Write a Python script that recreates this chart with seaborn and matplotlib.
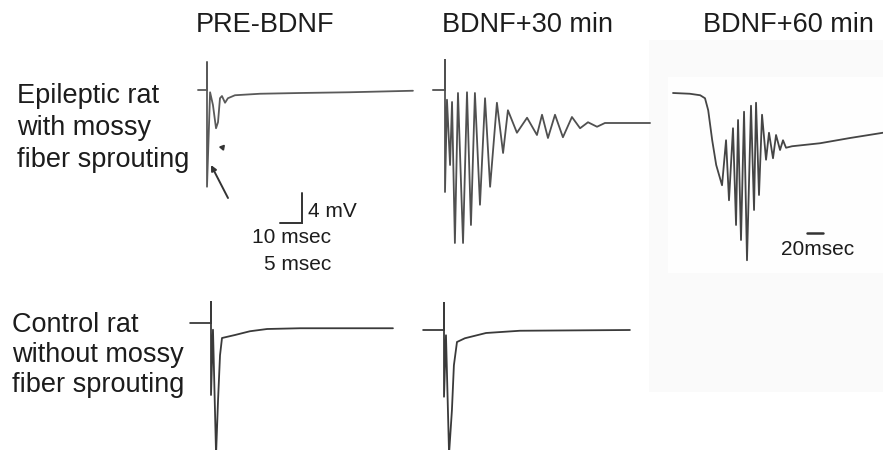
import numpy as np
import pandas as pd
import matplotlib
matplotlib.use("Agg")
import matplotlib.pyplot as plt
import seaborn as sns
from matplotlib.patches import Rectangle

sns.set_theme(style="white")
plt.rcParams['font.family'] = ['Liberation Sans', 'DejaVu Sans']

# ---------------- data (time in ms, voltage in mV) ----------------
col_titles = ["PRE-BDNF", "BDNF+30 min", "BDNF+60 min"]
row1_lines = ["Epileptic rat", "with mossy", "fiber sprouting"]
row2_lines = ["Control rat", "without mossy", "fiber sprouting"]

# Epileptic, PRE-BDNF
ep_pre_t = [-4.1, 0, 0, 0, 1.4, 2.7, 4.1, 5.0, 5.9, 6.8, 8.2, 9.5, 12.7, 24.1, 42.3, 65.0, 93.6]
ep_pre_v = [0.0, 0.0, 3.7, -12.9, -0.3, -2.0, -5.1, -4.3, -1.1, -0.8, -1.7, -1.1, -0.7, -0.5, -0.4, -0.3, -0.1]

# Epileptic, BDNF+30 min
ep_30_t = [-5.5, 0, 0, 0, 0.9, 2.3, 3.2, 4.5, 5.9, 8.2, 10.0, 11.8, 13.6, 15.9, 18.2, 20.5,
           23.6, 26.4, 28.6, 32.7, 37.3, 41.8, 44.1, 46.8, 50.0, 53.6, 57.7, 61.4, 65.0,
           69.1, 72.7, 93.2]
ep_30_v = [0.0, 0.0, 4.0, -13.6, -1.3, -10.0, -1.6, -20.4, -0.4, -20.4, -0.3, -18.0, -0.4,
           -15.3, -1.1, -12.9, -1.7, -8.4, -2.7, -5.7, -3.7, -6.0, -3.3, -6.4, -3.3, -6.3,
           -3.6, -5.1, -4.3, -4.9, -4.4, -4.4]

# Epileptic, BDNF+60 min
ep_60_t = [0, 21, 34, 40, 44, 49, 54, 57.5, 61.3, 66.3, 70.0, 75.0, 78.8, 81.3, 85.0, 88.8,
           92.5, 97.5, 101.3, 103.8, 107.5, 111.3, 116.3, 120.0, 125.0, 128.8, 133.8, 137.5,
           141.3, 148.8, 183.8, 221.3, 262.5]
ep_60_v = [0.0, -0.1, -0.3, -0.7, -2.3, -6.3, -9.6, -10.9, -12.3, -6.3, -14.3, -4.7, -17.6,
           -3.6, -19.6, -2.5, -22.3, -1.7, -15.6, -1.3, -13.6, -2.9, -8.9, -5.3, -8.7, -5.6,
           -7.6, -6.3, -7.3, -7.1, -6.7, -6.0, -5.3]

# Control, PRE-BDNF
ct_pre_t = [-9.5, 0, 0, 0, 0.9, 2.3, 3.2, 4.1, 5.0, 10.9, 17.7, 25.5, 40.5, 82.7]
ct_pre_v = [0.0, 0.0, 2.8, -9.6, -0.9, -17.5, -10.3, -4.3, -2.0, -1.6, -1.1, -0.8, -0.7, -0.7]

# Control, BDNF+30 min
ct_30_t = [-9.5, 0, 0, 0, 0.9, 2.3, 3.6, 4.5, 5.9, 9.5, 19.1, 34.5, 84.5]
ct_30_v = [0.0, 0.0, 3.6, -8.9, -0.7, -16.5, -10.7, -4.7, -1.6, -1.1, -0.4, -0.1, 0.0]

W, H = 883, 450
fig = plt.figure(figsize=(W / 100, H / 100), dpi=100)
fig.patch.set_facecolor("white")

# base axes in pixel units for texts / annotations
base = fig.add_axes([0, 0, 1, 1])
base.set_xlim(0, W)
base.set_ylim(H, 0)
base.axis("off")

# very faint scan background
base.add_patch(Rectangle((649, 40), W - 649, 352, facecolor="#fafafa", edgecolor="none", zorder=0))
base.add_patch(Rectangle((668, 77), W - 668, 196, facecolor="#fefefe", edgecolor="none", zorder=0))


def panel_axes(xs, yb, px_ms, px_mv):
    ax = fig.add_axes([0, 0, 1, 1])
    ax.set_xlim(-xs / px_ms, (W - xs) / px_ms)
    ax.set_ylim((yb - H) / px_mv, yb / px_mv)
    ax.patch.set_alpha(0)
    ax.axis("off")
    return ax


def trace(ax, t, v, color="#4a4a4a", lw=1.3):
    df = pd.DataFrame({"t": t, "v": v})
    sns.lineplot(data=df, x="t", y="v", ax=ax, sort=False, estimator=None,
                 color=color, linewidth=lw)


ax1 = panel_axes(207, 90, 2.2, 7.5)
trace(ax1, ep_pre_t, ep_pre_v, color="#5a5a5a")
ax2 = panel_axes(445, 90, 2.2, 7.5)
trace(ax2, ep_30_t, ep_30_v, color="#505050")
ax3 = panel_axes(673, 93, 0.8, 7.5)
trace(ax3, ep_60_t, ep_60_v, color="#454545")
ax4 = panel_axes(211, 323, 2.2, 7.5)
trace(ax4, ct_pre_t, ct_pre_v, color="#3a3a3a")
ax5 = panel_axes(444, 330, 2.2, 7.5)
trace(ax5, ct_30_t, ct_30_v, color="#3a3a3a")

# scale bars
ax1.plot([33.2, 43.2, 43.2], [-17.7, -17.7, -13.7], color="#333333", lw=1.4, solid_joinstyle="miter")
ax3.plot([167.5, 187.5], [-18.7, -18.7], color="#333333", lw=1.8)

txt = dict(color="#1c1c1c")
for title, cx in zip(col_titles, [265, 527, 788]):
    base.text(cx, 32, title, ha="center", va="baseline", fontsize=19.5, **txt)

for line, y in zip(row1_lines, [103, 135, 167]):
    base.text(17, y, line, ha="left", va="baseline", fontsize=19.5, **txt)
for line, y in zip(row2_lines, [332, 362, 392]):
    base.text(12, y, line, ha="left", va="baseline", fontsize=19.5, **txt)

base.text(308, 217, "4 mV", ha="left", va="baseline", fontsize=15, **txt)
base.text(292, 243, "10 msec", ha="center", va="baseline", fontsize=15, **txt)
base.text(298, 270, "5 msec", ha="center", va="baseline", fontsize=15, **txt)
base.text(818, 255, "20msec", ha="center", va="baseline", fontsize=15, **txt)

# arrows
base.annotate("", xy=(211, 165), xytext=(228, 198),
              arrowprops=dict(arrowstyle="-|>", color="#333333", lw=1.4,
                              mutation_scale=8, shrinkA=0, shrinkB=0))
base.plot([222], [147], marker=(3, 0, 200), markersize=4, color="#333333")

fig.savefig("out.png", dpi=100, facecolor="white")
